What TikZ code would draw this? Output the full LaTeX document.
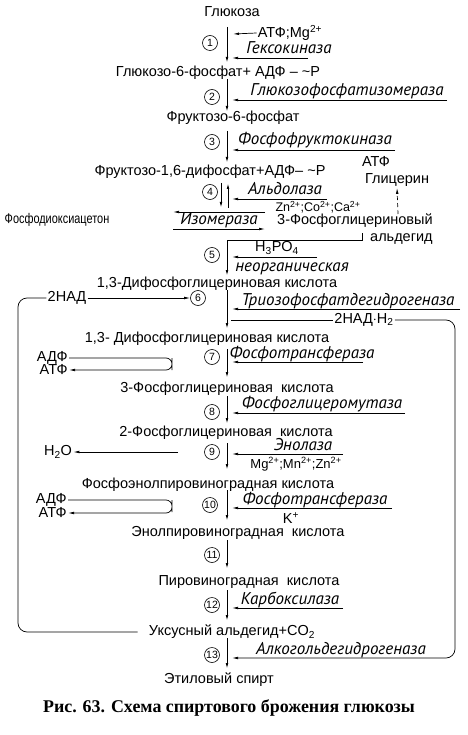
\documentclass[tikz,border=0pt]{standalone}
\usepackage{fontspec}
\setmainfont{Liberation Sans}
\newfontfamily\enzfamily{PT Sans}
\newfontfamily\capfamily{Liberation Serif}
\usetikzlibrary{arrows.meta, calc}

\begin{document}
\begin{tikzpicture}[x=1pt, y=-1pt, >={Latex[length=6pt,width=2.6pt]}, line width=0.7pt,
  met/.style={font=\fontsize{14.5}{16}\selectfont, inner sep=1pt},
  ion/.style={font=\fontsize{12.5}{14}\selectfont, inner sep=1pt},
  enz/.style={font=\enzfamily\itshape\fontsize{17}{18}\selectfont, inner sep=0pt, anchor=base},
  stepno/.style={draw, circle, line width=0.6pt, minimum size=15pt, inner sep=0pt, font=\fontsize{10.5}{11}\selectfont},
  flow/.style={->, line width=0.9pt}]
  \useasboundingbox (0,0) rectangle (467,735);

  % metabolites
  \node[met] (glc) at (232,12) {Глюкоза};
  \node[met] (g6p) at (218,73) {Глюкозо-6-фосфат+ АДФ -- \textasciitilde P};
  \node[met] (f6p) at (233,118) {Фруктозо-6-фосфат};
  \node[met] (fbp) at (210,172) {Фруктозо-1,6-дифосфат+АДФ-- \textasciitilde P};
  \node[met] (glyc) at (397,180) {Глицерин};
  \node[met, font=\fontsize{14}{15}\selectfont] (dhap) at (57,220) {\scalebox{0.78}[1]{Фосфодиоксиацетон}};
  \node[met, align=right, anchor=north east] (gap) at (434,212) {3-Фосфоглицериновый\\[1pt]альдегид};
  \node[met] (bpg1) at (217,284) {1,3-Дифосфоглицериновая кислота};
  \node[met] (bpg2) at (207,339) {1,3- Дифосфоглицериновая кислота};
  \node[met] (pg3) at (227,389) {3-Фосфоглицериновая\ \ кислота};
  \node[met] (pg2) at (226,433) {2-Фосфоглицериновая\ \ кислота};
  \node[met] (pep) at (208,485) {Фосфоэнолпировиноградная кислота};
  \node[met] (enol) at (238,533) {Энолпировиноградная\ \ кислота};
  \node[met] (pyr) at (249,582) {Пировиноградная\ \ кислота};
  \node[met] (acet) at (232,632) {Уксусный альдегид+CO\textsubscript{2}};
  \node[met] (etoh) at (219,680) {Этиловый спирт};

  % cofactors
  \node[met] (atpmg) at (290,33) {АТФ;Mg\textsuperscript{2+}};
  \node[met] (atp3) at (376,162) {АТФ};
  \node[ion] (zn) at (318,207) {Zn\textsuperscript{2+};Co\textsuperscript{2+};Ca\textsuperscript{2+}};
  \node[met] (h3po4) at (277,248) {H\textsubscript{3}PO\textsubscript{4}};
  \node[met] (nad) at (67,298) {2НАД};
  \node[met] (nadh) at (364,320) {2НАД$\cdot$H\textsubscript{2}};
  \node[met, anchor=east] (adp7) at (69,358) {АДФ};
  \node[met, anchor=east] (atp7) at (69,370) {АТФ};
  \node[met] (h2o) at (58,452) {H\textsubscript{2}O};
  \node[ion, font=\fontsize{13}{14}\selectfont] (mg9) at (296,464) {Mg\textsuperscript{2+};Mn\textsuperscript{2+};Zn\textsuperscript{2+}};
  \node[met, anchor=east] (adp10) at (68,500) {АДФ};
  \node[met, anchor=east] (atp10) at (68,513) {АТФ};
  \node[met] (kplus) at (291,518) {K\textsuperscript{+}};

  % enzymes (baseline just above their arrows)
  \node[enz] (hk) at (289,54) {Гексокиназа};
  \node[enz] (gpi) at (347,96) {Глюкозофосфатизомераза};
  \node[enz] (pfk) at (315,145) {Фосфофруктокиназа};
  \node[enz] (aldo) at (285,195) {Альдолаза};
  \node[enz] (iso) at (219,225) {Изомераза};
  \node[enz] (inorg) at (292,271) {неорганическая};
  \node[enz] (gapdh) at (348,305) {Триозофосфатдегидрогеназа};
  \node[enz] (pgk) at (302,358) {Фосфотрансфераза};
  \node[enz] (pgm) at (322,408) {Фосфоглицеромутаза};
  \node[enz] (eno) at (303,450) {Энолаза};
  \node[enz] (pk) at (315,504) {Фосфотрансфераза};
  \node[enz] (pdc) at (290,604) {Карбоксилаза};
  \node[enz] (adh) at (341,654) {Алкогольдегидрогеназа};

  % main steps
  \foreach \n/\xc/\yc/\yt/\yb in {1/210/43/27/63, 2/212/97/79/112, 3/212/142/131/163,
      6/198/298/290/329, 7/212/357/349/378, 8/212/412/396/424, 9/212/452/443/470,
      10/210/505/490/521, 11/212/555/540/569, 12/212/605/590/621, 13/212/655/638/669} {
    \node[stepno] (c\n) at (\xc,\yc) {\n};
    \coordinate (top\n) at (227,\yt);
    \coordinate (bot\n) at (227,\yb);
    \draw[flow] (top\n) -- (bot\n);
  }
  \node[stepno] (c4) at (210,192) {4};
  \node[stepno] (c5) at (212,255) {5};
  \coordinate (t4a) at (221,183);
  \coordinate (b4a) at (221,208);
  \coordinate (t4b) at (228,183);
  \coordinate (b4b) at (228,208);
  \draw[flow] (t4a) -- (b4a);
  \draw[flow] (b4b) -- (t4b);
  \coordinate (brk) at (362,233);
  \coordinate (top5) at (227,240);
  \coordinate (bot5) at (227,276);
  \draw[flow] (brk) |- (top5) -- (bot5);

  % enzyme arrows
  \foreach \n/\y/\xr in {1/58/308, 2/100/447, 3/150/395, 4/199/327, 5/257/317, 6/309/460,
      7/362/363, 8/413/405, 9/454/343, 10/508/392, 12/608/343} {
    \coordinate (er\n) at (\xr,\y);
    \coordinate (el\n) at (232,\y);
    \draw[->] (er\n) -- (el\n);
  }
  \coordinate (mge) at (233,34);
  \draw[->] (atpmg.west) -- (mge);

  % isomerase
  \coordinate (isoL1) at (173,212);
  \coordinate (isoR1) at (265,212);
  \coordinate (isoL2) at (173,229);
  \coordinate (isoR2) at (265,229);
  \draw[->] (isoR1) -- (isoL1);
  \draw[->] (isoL2) -- (isoR2);

  % glycerol
  \coordinate (glfrom) at (398,214);
  \draw[->, dashed, dash pattern=on 4pt off 3pt] (glfrom) -- (glyc.south);

  % NAD cycle
  \coordinate (lloop) at (18,460);
  \coordinate (rloop) at (455,490);
  \coordinate (nadhs) at (231,320);
  \coordinate (el13) at (232,658);
  \draw[->] (nad.east) -- (c6.west);
  \draw[rounded corners=9pt, shorten >=10pt] (nad.west) -| (lloop) |- (acet.west);
  \draw (nadhs) -- (nadh.west);
  \draw[->, rounded corners=9pt] (nadh.east) -| (rloop) |- (el13);

  % ADP/ATP loops and water
  \coordinate (loop7) at (172,364);
  \coordinate (loop10) at (172,506);
  \draw[->, rounded corners=6pt] (adp7.east) -| (loop7) |- (atp7.east);
  \draw[->, rounded corners=6pt] (adp10.east) -| (loop10) |- (atp10.east);
  \coordinate (w9) at (178,452);
  \draw[->] (w9) -- (h2o.east);

  \node[font=\capfamily\bfseries\fontsize{17.9}{20}\selectfont] (cap) at (229,708) {Рис. 63. Схема спиртового брожения глюкозы};
\end{tikzpicture}
\end{document}
